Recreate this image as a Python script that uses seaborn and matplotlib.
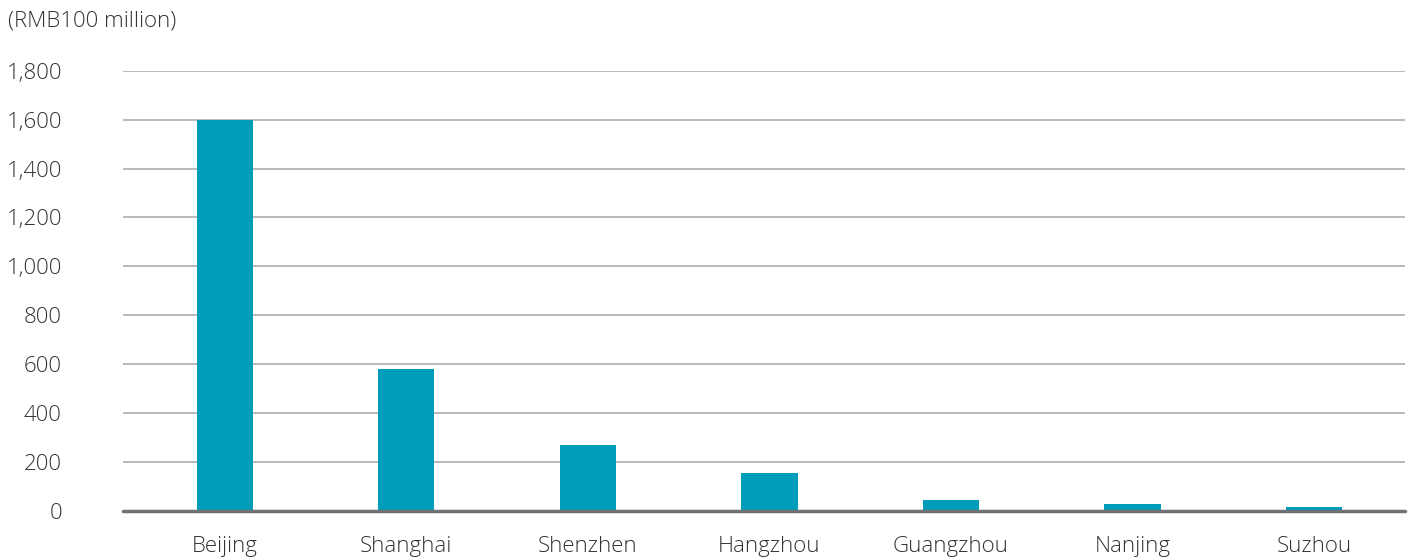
import matplotlib
matplotlib.use("Agg")
import matplotlib.pyplot as plt
import seaborn as sns
import pandas as pd

cities = ["Beijing", "Shanghai", "Shenzhen", "Hangzhou", "Guangzhou", "Nanjing", "Suzhou"]
values = [1600, 580, 268, 155, 43, 30, 18]
yticks = [0, 200, 400, 600, 800, 1000, 1200, 1400, 1600, 1800]
unit_label = "(RMB100 million)"

sns.set_theme(style="white")
plt.rcParams["font.family"] = ["Open Sans", "DejaVu Sans"]
plt.rcParams["font.weight"] = "light"

df = pd.DataFrame({"city": cities, "value": values})

W, H = 1413, 558
fig = plt.figure(figsize=(W / 100, H / 100), dpi=100)
ax = fig.add_axes([123 / W, 1 - 511 / H, (1405 - 123) / W, (511 - 70.7) / H])

sns.barplot(data=df, x="city", y="value", color="#009DBB", width=0.31,
            saturation=1, linewidth=0, ax=ax, zorder=3)

ax.set_ylim(0, 1800)
ax.set_xlim(-0.56, 6.5)
ax.set_yticks(yticks)
ax.set_yticklabels([f"{v:,}" for v in yticks])
for y in yticks[1:]:
    ax.axhline(y, color="#ABABAB", lw=1.2, zorder=1)
ax.axhline(0, color="#707175", lw=2.5, zorder=4, clip_on=False)

for s in ax.spines.values():
    s.set_visible(False)
fs = 16
ax.tick_params(axis="y", length=0, pad=44, labelsize=fs, labelcolor="#333333")
ax.tick_params(axis="x", length=0, pad=18, labelsize=fs, labelcolor="#333333")
for lab in ax.get_xticklabels() + ax.get_yticklabels():
    lab.set_fontweight("light")
ax.set_xlabel("")
ax.set_ylabel("")

fig.text(8 / W, 1 - 21 / H, unit_label, ha="left", va="center", fontsize=fs,
         color="#333333", fontweight="light")

fig.savefig("out.png", dpi=100, facecolor="white")
